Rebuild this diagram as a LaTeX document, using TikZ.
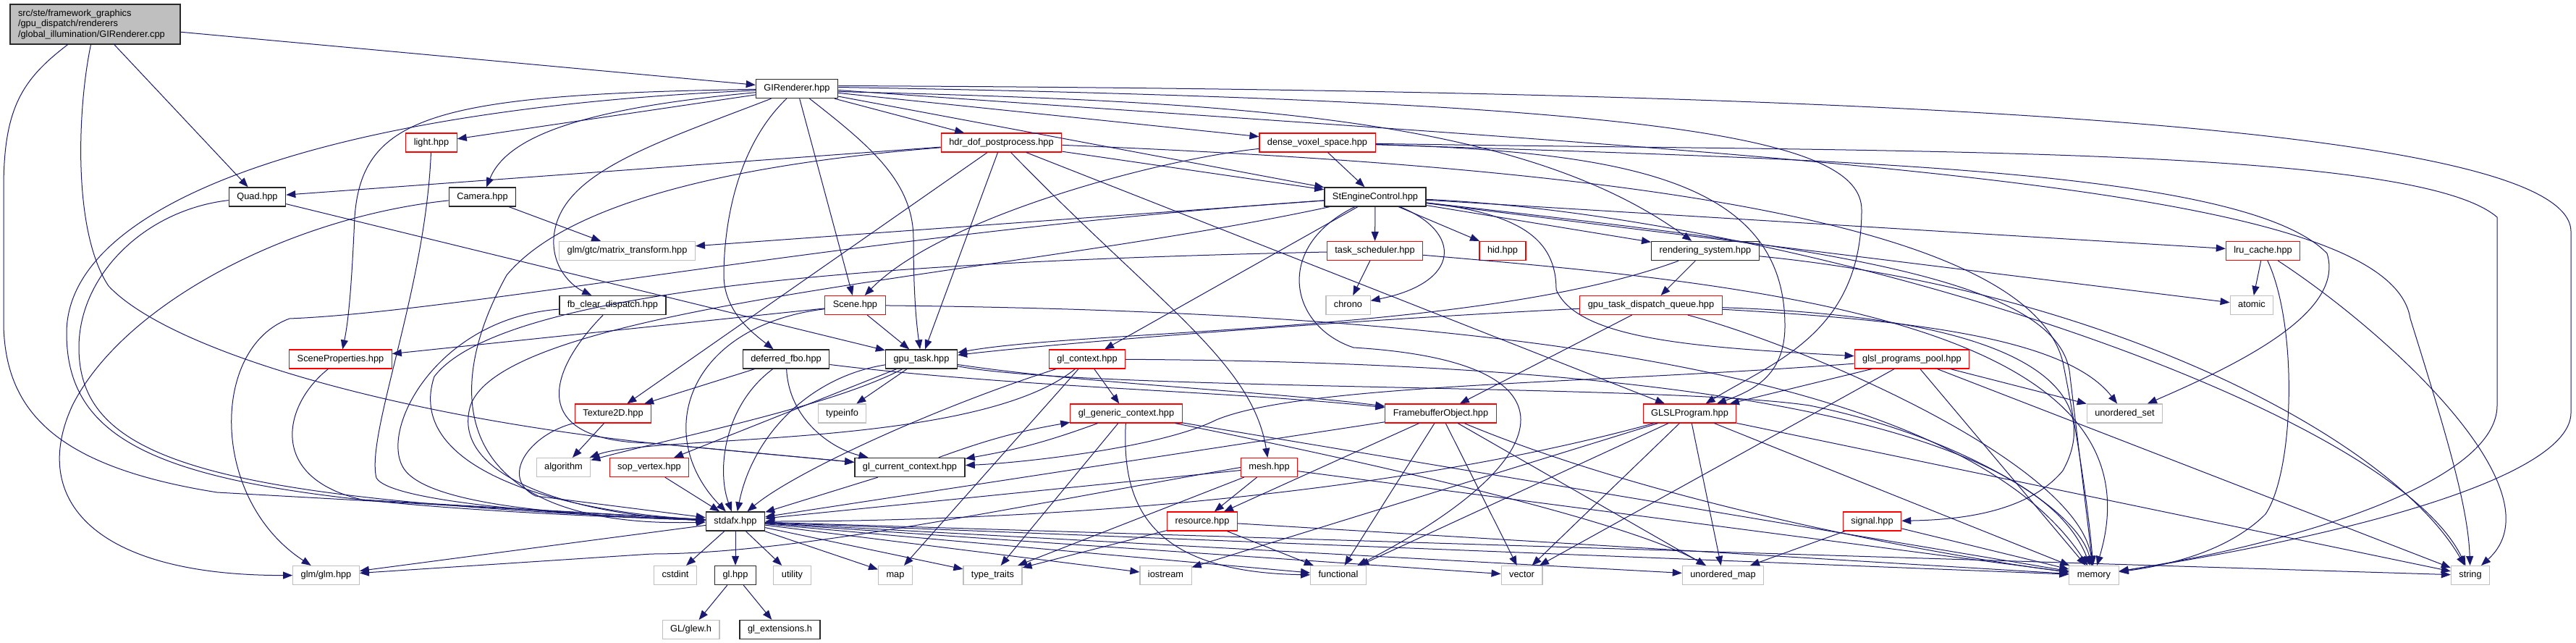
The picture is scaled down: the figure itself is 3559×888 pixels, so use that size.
\documentclass[tikz,border=0pt]{standalone}
\usepackage{fontspec}
\setmainfont{Liberation Sans}
\usetikzlibrary{arrows.meta}
\definecolor{edgec}{RGB}{25,25,112}
\definecolor{redb}{RGB}{255,0,0}
\definecolor{grayb}{RGB}{191,191,191}
\definecolor{blkb}{RGB}{40,40,40}
\begin{document}
\begin{tikzpicture}[x=1pt,y=-1pt,
  box/.style={draw,minimum height=26pt,inner xsep=11pt,inner ysep=0pt,text height=9.6pt,text depth=2.8pt,font=\fontsize{12.8}{15}\selectfont,line width=1.1pt,fill=white},
  bbox/.style={box,draw=blkb,line width=1.4pt},
  rbox/.style={box,draw=redb},
  gbox/.style={box,draw=grayb},
  dep/.style={draw=edgec,line width=1pt,-{Triangle[length=13pt,width=10pt]}}]
\useasboundingbox (0,0) rectangle (3559,888);
\fill[white] (0,0) rectangle (3559,888);
% nodes
\node[draw=blkb,line width=1.4pt,fill=grayb,text width=213pt,align=left,minimum height=55pt,inner xsep=11pt,inner ysep=0pt,font=\fontsize{12.8}{14.5}\selectfont] (root) at (131.5,33.5) {src/ste/framework\_graphics\\/gpu\_dispatch/renderers\\/global\_illumination/GIRenderer.cpp};
\node[bbox] (gir) at (1101,122.5) {GIRenderer.hpp};
\node[rbox] (light) at (596,197) {light.hpp};
\node[rbox] (hdr) at (1383.5,197) {hdr\_dof\_postprocess.hpp};
\node[rbox] (dvs) at (1820,197) {dense\_voxel\_space.hpp};
\node[bbox] (quad) at (355.5,272) {Quad.hpp};
\node[bbox] (camera) at (666.5,272) {Camera.hpp};
\node[bbox] (sec) at (1900,272) {StEngineControl.hpp};
\node[gbox] (mtx) at (866.5,346.5) {glm/gtc/matrix\_transform.hpp};
\node[rbox] (tasksch) at (1899.5,346.5) {task\_scheduler.hpp};
\node[rbox] (hid) at (2076,346.5) {hid.hpp};
\node[bbox] (rsys) at (2356,346.5) {rendering\_system.hpp};
\node[rbox] (lru) at (3126.5,346.5) {lru\_cache.hpp};
\node[bbox] (fbclear) at (846.5,421.5) {fb\_clear\_dispatch.hpp};
\node[rbox] (scene) at (1181.5,421.5) {Scene.hpp};
\node[gbox] (chrono) at (1862.5,421.5) {chrono};
\node[rbox] (gtdq) at (2281,421.5) {gpu\_task\_dispatch\_queue.hpp};
\node[gbox] (atomic) at (3111,421.5) {atomic};
\node[rbox] (sprops) at (470.5,496) {SceneProperties.hpp};
\node[bbox] (dfbo) at (1086,496) {deferred\_fbo.hpp};
\node[bbox] (gputask) at (1273,496) {gpu\_task.hpp};
\node[rbox] (glctx) at (1502,496) {gl\_context.hpp};
\node[rbox] (gpp) at (2641.5,496) {glsl\_programs\_pool.hpp};
\node[rbox] (tex2d) at (847,571) {Texture2D.hpp};
\node[gbox] (typeinfo) at (1163.5,571) {typeinfo};
\node[rbox] (glgen) at (1556,571) {gl\_generic\_context.hpp};
\node[rbox] (fbo) at (1990.5,571) {FramebufferObject.hpp};
\node[rbox] (glsl) at (2334.5,571) {GLSLProgram.hpp};
\node[gbox] (uset) at (2935.5,571) {unordered\_set};
\node[gbox] (algorithm) at (778.5,645.5) {algorithm};
\node[rbox] (sop) at (897,645.5) {sop\_vertex.hpp};
\node[bbox] (glcur) at (1257,645.5) {gl\_current\_context.hpp};
\node[rbox] (mesh) at (1753.5,645.5) {mesh.hpp};
\node[bbox] (stdafx) at (1016,720) {stdafx.hpp};
\node[rbox] (resource) at (1661,720) {resource.hpp};
\node[rbox] (signal) at (2586.5,720) {signal.hpp};
\node[gbox] (glm) at (450.5,794.5) {glm/glm.hpp};
\node[gbox] (cstdint) at (933,794.5) {cstdint};
\node[bbox] (glhpp) at (1016,794.5) {gl.hpp};
\node[gbox] (utility) at (1094.5,794.5) {utility};
\node[gbox] (map) at (1237,794.5) {map};
\node[gbox] (typetraits) at (1371.5,794.5) {type\_traits};
\node[gbox] (iostream) at (1610.5,794.5) {iostream};
\node[gbox] (functional) at (1849,794.5) {functional};
\node[gbox] (vector) at (2102.5,794.5) {vector};
\node[gbox] (umap) at (2380.5,794.5) {unordered\_map};
\node[gbox] (memory) at (2893,794.5) {memory};
\node[gbox] (string) at (3413,794.5) {string};
\node[gbox] (glew) at (954.5,869.5) {GL/glew.h};
\node[bbox] (glext) at (1077.5,869.5) {gl\_extensions.h};
% root
\draw[dep] (root) -- (gir);
\draw[dep] (root) -- (quad);
\draw[dep] ([xshift=-38pt]root.south) .. controls (30,110) and (5,150) .. (5,260) -- (5,450) .. controls (8,570) and (80,645) .. (300,680) -- (stdafx);
\draw[dep] ([xshift=-6pt]root.south) .. controls (107,150) and (100,320) .. (150,395) .. controls (230,480) and (520,570) .. (900,612) -- (glcur);
% GIRenderer.hpp
\draw[dep] (gir) -- (light);
\draw[dep] (gir) .. controls (800,150) and (700,190) .. (camera);
\draw[dep] (gir) .. controls (600,130) and (500,160) .. (490,300) .. controls (486,390) and (482,440) .. (sprops);
\draw[dep] (gir) .. controls (450,150) and (92,280) .. (92,460) .. controls (92,650) and (300,695) .. (stdafx);
\draw[dep] (gir) .. controls (900,200) and (770,240) .. (765,330) .. controls (763,370) and (790,395) .. (fbclear);
\draw[dep] (gir) .. controls (1010,210) and (1000,330) .. (1000,380) .. controls (1000,430) and (1040,460) .. (dfbo);
\draw[dep] (gir) -- (scene);
\draw[dep] (gir) .. controls (1200,200) and (1262,250) .. (1262,330) .. controls (1262,420) and (1268,460) .. (gputask);
\draw[dep] (gir) -- (hdr);
\draw[dep] (gir) -- (dvs);
\draw[dep] (gir) -- (sec);
\draw[dep] ([yshift=-4pt]gir.east) .. controls (1700,140) and (2100,160) .. (rsys);
\draw[dep] ([yshift=2pt]gir.east) .. controls (2300,140) and (2572,190) .. (2572,290) .. controls (2572,460) and (2450,500) .. (glsl);
\draw[dep] ([yshift=4pt]gir.east) .. controls (2700,125) and (3552,180) .. (3552,320) -- (3552,570) .. controls (3552,650) and (3300,730) .. (memory);
\draw[dep] ([yshift=-2pt]gir.east) .. controls (2500,220) and (3300,250) .. (3330,440) .. controls (3380,600) and (3410,700) .. (string);
% light, quad, camera
\draw[dep] (light) .. controls (588,400) and (505,600) .. (520,660) .. controls (540,695) and (800,712) .. (stdafx);
\draw[dep] (quad) .. controls (200,290) and (109,380) .. (109,480) .. controls (109,640) and (300,690) .. (stdafx);
\draw[dep] (quad) -- (gputask);
\draw[dep] (camera) -- (mtx);
\draw[dep] (camera) .. controls (400,300) and (170,420) .. (100,560) .. controls (40,690) and (130,795) .. (glm);
% hdr
\draw[dep] (hdr) -- (quad);
\draw[dep] (hdr) -- (sec);
\draw[dep] (hdr) .. controls (1100,220) and (800,260) .. (700,380) .. controls (600,560) and (640,730) .. (stdafx);
\draw[dep] (hdr) -- (tex2d);
\draw[dep] (hdr) -- (gputask);
\draw[dep] (hdr) .. controls (1600,420) and (1730,500) .. (mesh);
\draw[dep] (hdr) -- (glsl);
\draw[dep] (hdr) .. controls (2200,230) and (2800,300) .. (2850,500) .. controls (2870,600) and (2885,700) .. (memory);
% dense_voxel_space
\draw[dep] (dvs) -- (sec);
\draw[dep] (dvs) .. controls (1600,220) and (1300,300) .. (scene);
\draw[dep] (dvs) .. controls (2250,210) and (2466,250) .. (2466,450) .. controls (2466,520) and (2420,540) .. (glsl);
\draw[dep] (dvs) .. controls (2500,220) and (3100,230) .. (3215,350) .. controls (3240,430) and (3100,500) .. (uset);
\draw[dep] (dvs) .. controls (2600,210) and (3335,200) .. (3450,300) -- (3450,560) .. controls (3450,660) and (3200,745) .. (memory);
% StEngineControl
\draw[dep] (sec) -- (mtx);
\draw[dep] (sec) .. controls (1200,320) and (650,430) .. (400,440) .. controls (290,480) and (290,690) .. (glm);
\draw[dep] (sec) .. controls (1400,380) and (700,420) .. (650,560) .. controls (620,660) and (800,712) .. (stdafx);
\draw[dep] (sec) -- (tasksch);
\draw[dep] (sec) -- (hid);
\draw[dep] (sec) -- (rsys);
\draw[dep] (sec) .. controls (2020,320) and (2020,390) .. (chrono);
\draw[dep] (sec) -- (glctx);
\draw[dep] (sec) .. controls (2100,295) and (2150,330) .. (2150,400) .. controls (2180,470) and (2350,480) .. (gpp);
\draw[dep] (sec) -- (lru);
\draw[dep] (sec) -- (atomic);
\draw[dep] (sec) .. controls (2500,340) and (2850,380) .. (2860,520) -- (memory);
\draw[dep] (sec) .. controls (2500,300) and (3300,560) .. (string);
\draw[dep] (sec) .. controls (1760,340) and (1780,450) .. (1870,480) .. controls (2200,500) and (2150,640) .. (functional);
% task_scheduler
\draw[dep] (tasksch) -- (chrono);
\draw[dep] (tasksch) .. controls (1300,360) and (700,390) .. (600,520) .. controls (560,640) and (750,705) .. (stdafx);
\draw[dep] (tasksch) .. controls (2400,390) and (3000,440) .. (memory);
% rendering_system
\draw[dep] (rsys) -- (gtdq);
\draw[dep] (rsys) .. controls (2050,460) and (1500,455) .. (gputask);
\draw[dep] (rsys) .. controls (2900,400) and (3300,600) .. (string);
% fb_clear_dispatch
\draw[dep] (fbclear) .. controls (750,520) and (735,610) .. (900,612) -- (glcur);
\draw[dep] (fbclear) .. controls (600,440) and (520,600) .. (560,650) .. controls (600,700) and (800,712) .. (stdafx);
% Scene
\draw[dep] (scene) -- (sprops);
\draw[dep] (scene) -- (gputask);
\draw[dep] (scene) .. controls (950,450) and (900,600) .. (stdafx);
\draw[dep] (scene) .. controls (2000,430) and (2700,500) .. (memory);
% gpu_task_dispatch_queue
\draw[dep] (gtdq) .. controls (1900,440) and (1500,470) .. (gputask);
\draw[dep] (gtdq) -- (fbo);
\draw[dep] (gtdq) .. controls (2600,440) and (2850,460) .. (uset);
\draw[dep] (gtdq) .. controls (2500,480) and (2870,640) .. (memory);
\draw[dep] (gtdq) .. controls (2850,440) and (2900,560) .. (2850,650) .. controls (2800,710) and (2700,718) .. (signal);
% lru_cache
\draw[dep] (lru) -- (atomic);
\draw[dep] (lru) .. controls (3175,450) and (3170,650) .. (3130,710) .. controls (3080,760) and (3000,780) .. (memory);
\draw[dep] (lru) .. controls (3300,460) and (3540,680) .. (string);
% SceneProperties
\draw[dep] (sprops) .. controls (390,560) and (370,660) .. (500,690) -- (stdafx);
% deferred_fbo
\draw[dep] (dfbo) -- (tex2d);
\draw[dep] (dfbo) .. controls (1090,580) and (1150,620) .. (glcur);
\draw[dep] (dfbo) .. controls (1400,535) and (1700,540) .. (fbo);
\draw[dep] (dfbo) .. controls (1000,560) and (990,650) .. (stdafx);
% gpu_task
\draw[dep] (gputask) -- (typeinfo);
\draw[dep] (gputask) .. controls (1120,520) and (1040,600) .. (stdafx);
\draw[dep] (gputask) .. controls (1150,560) and (950,600) .. (algorithm);
\draw[dep] (gputask) -- (sop);
\draw[dep] (gputask) .. controls (1500,530) and (1750,540) .. (fbo);
\draw[dep] (gputask) .. controls (1500,540) and (2300,530) .. (2500,560) .. controls (2700,600) and (2870,700) .. (memory);
% gl_context
\draw[dep] (glctx) -- (glgen);
\draw[dep] (glctx) -- (map);
\draw[dep] (glctx) .. controls (1300,560) and (1100,650) .. (stdafx);
\draw[dep] (glctx) .. controls (1350,620) and (900,600) .. (algorithm);
\draw[dep] (glctx) .. controls (2200,500) and (2800,560) .. (memory);
% glsl_programs_pool
\draw[dep] (gpp) -- (glsl);
\draw[dep] (gpp) .. controls (2200,530) and (1800,530) .. (1680,580) .. controls (1600,620) and (1400,640) .. (glcur);
\draw[dep] (gpp) -- (vector);
\draw[dep] (gpp) -- (memory);
\draw[dep] (gpp) -- (string);
\draw[dep] (gpp) -- (uset);
% Texture2D, sop_vertex
\draw[dep] (tex2d) -- (algorithm);
\draw[dep] (tex2d) .. controls (730,600) and (690,660) .. (740,685) -- (stdafx);
\draw[dep] (sop) -- (stdafx);
% gl_generic_context
\draw[dep] (glgen) to[bend left=5] (glcur);
\draw[dep] (glgen) -- (typetraits);
\draw[dep] (glgen) .. controls (1550,690) and (1580,790) .. (functional);
\draw[dep] (glgen) .. controls (1900,640) and (2250,720) .. (umap);
\draw[dep] (glgen) -- (memory);
% gl_current_context
\draw[dep] (glcur) to[bend left=5] (glgen);
\draw[dep] (glcur) -- (stdafx);
% FramebufferObject
\draw[dep] (fbo) -- (stdafx);
\draw[dep] (fbo) -- (resource);
\draw[dep] (fbo) -- (vector);
\draw[dep] (fbo) -- (umap);
\draw[dep] (fbo) -- (functional);
\draw[dep] (fbo) .. controls (2300,700) and (2700,770) .. (memory);
% GLSLProgram
\draw[dep] (glsl) .. controls (1900,690) and (1400,720) .. (stdafx);
\draw[dep] (glsl) -- (functional);
\draw[dep] (glsl) -- (vector);
\draw[dep] (glsl) -- (umap);
\draw[dep] (glsl) -- (memory);
\draw[dep] (glsl) -- (string);
\draw[dep] (glsl) -- (iostream);
% mesh
\draw[dep] (mesh) -- (resource);
\draw[dep] (mesh) -- (stdafx);
\draw[dep] (mesh) -- (typetraits);
\draw[dep] (mesh) -- (memory);
\draw[dep] (mesh.west) .. controls (1400,700) and (1100,765) .. (900,765) -- (glm);
% resource
\draw[dep] (resource) -- (typetraits);
\draw[dep] (resource) -- (functional);
\draw[dep] (resource) -- (memory);
% signal
\draw[dep] (signal) -- (umap);
\draw[dep] (signal) -- (memory);
% stdafx
\foreach \t in {cstdint,glhpp,utility,map,typetraits,iostream,functional,vector,umap,memory,string,glm}
  \draw[dep] (stdafx) -- (\t);
% gl.hpp
\draw[dep] (glhpp) -- (glew);
\draw[dep] (glhpp) -- (glext);
\end{tikzpicture}
\end{document}
